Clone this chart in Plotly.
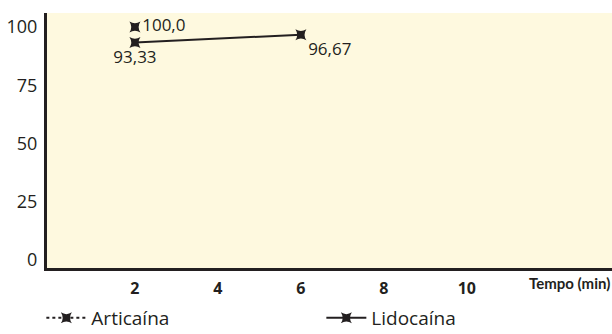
import plotly.graph_objects as go

x_art = [2]
y_art = [100.0]
lbl_art = ["100,0"]

x_lid = [2, 6]
y_lid = [93.33, 96.67]
lbl_lid = ["93,33", "96,67"]

x_ticks = [2, 4, 6, 8, 10]
y_ticks = [0, 25, 50, 75, 100]

dark = "#231f20"
font = "Open Sans"

fig = go.Figure()
fig.add_trace(go.Scatter(
    x=x_art, y=y_art, name="Articaína", mode="lines+markers+text",
    text=lbl_art, textposition="middle right",
    textfont=dict(family=font, size=17, color=dark),
    line=dict(color=dark, width=2, dash="dot"),
    marker=dict(symbol="star-square", size=10, color=dark),
))
fig.add_trace(go.Scatter(
    x=x_lid, y=y_lid, name="Lidocaína", mode="lines+markers+text",
    text=lbl_lid, textposition=["bottom center", "bottom right"],
    textfont=dict(family=font, size=17, color=dark),
    line=dict(color=dark, width=2),
    marker=dict(symbol="star-square", size=10, color=dark),
))

fig.update_layout(
    width=612, height=334,
    margin=dict(l=47, r=0, t=13, b=66, autoexpand=False),
    paper_bgcolor="white",
    plot_bgcolor="#fef9df",
    font=dict(family=font, color=dark),
    showlegend=True,
    legend=dict(orientation="h", x=-0.01, xanchor="left", y=-0.196, yanchor="middle",
                entrywidth=225, entrywidthmode="pixels", itemwidth=40,
                font=dict(family=font, size=19, color=dark), bgcolor="rgba(0,0,0,0)"),
    xaxis=dict(range=[-0.12, 13.5], tickvals=x_ticks, showgrid=False, zeroline=False,
               showline=True, linewidth=3, linecolor=dark, ticks="", ticklabelstandoff=4,
               tickfont=dict(family=font, size=16, color=dark, weight="bold")),
    yaxis=dict(range=[-3.4, 106], tickvals=y_ticks, showgrid=False, zeroline=False,
               showline=True, linewidth=3, linecolor=dark, ticks="", ticklabelstandoff=3,
               tickfont=dict(family=font, size=18, color=dark)),
    annotations=[dict(text="<b>Tempo (min)</b>", xref="paper", yref="paper",
                      x=1.0, y=-0.058, xanchor="right", yanchor="middle", showarrow=False,
                      font=dict(family="Lato", size=15, color=dark))],
)

fig.write_html("out.html", config={"displayModeBar": False},
               post_script="document.body.style.margin='0';")
